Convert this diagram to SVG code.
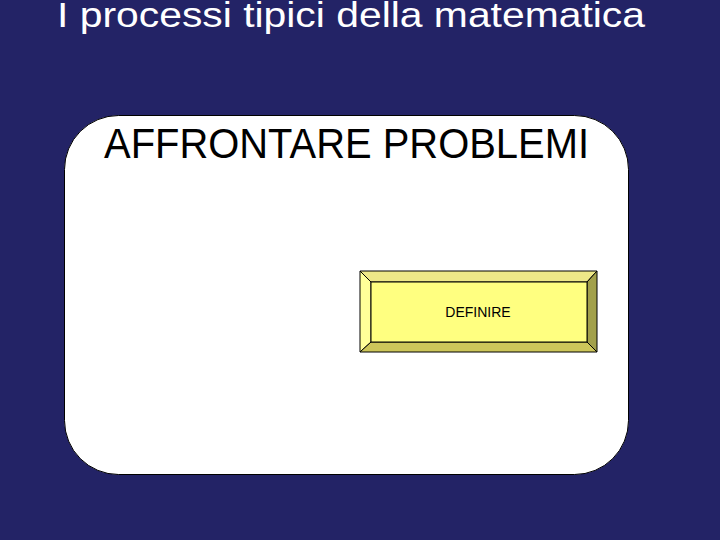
<svg xmlns="http://www.w3.org/2000/svg" width="720" height="540" viewBox="0 0 720 540">
<style>
.title{font-family:"Liberation Sans",Arial,sans-serif;fill:#fff;font-size:35px}
.head{font-family:"Liberation Sans",Arial,sans-serif;fill:#000;font-size:42px}
.lbl{font-family:"Liberation Sans",Arial,sans-serif;fill:#000;font-size:14px}
.edge{stroke:#000;stroke-width:1}
</style>
<rect width="720" height="540" fill="#232366"/>
<text class="title" x="57" y="27" textLength="588" lengthAdjust="spacingAndGlyphs">I processi tipici della matematica</text>
<g id="frame">
<rect x="64.5" y="115.5" width="564" height="359" rx="54" ry="54" fill="#fff" stroke="#000" stroke-width="1"/>
<text class="head" x="104" y="158" textLength="485" lengthAdjust="spacingAndGlyphs">AFFRONTARE PROBLEMI</text>
</g>
<g id="definire">
<polygon points="360,271 597,271 587,282 371,282" fill="#eee888" class="edge"/>
<polygon points="360,271 371,282 371,342 360,352" fill="#ffff99" class="edge"/>
<polygon points="597,271 597,352 587,342 587,282" fill="#a2a04a" class="edge"/>
<polygon points="360,352 371,342 587,342 597,352" fill="#cdc65a" class="edge"/>
<rect x="371" y="282" width="216" height="60" fill="#ffff80" class="edge"/>
<text class="lbl" x="478" y="317" text-anchor="middle">DEFINIRE</text>
</g>
<g id="connectors"/>
</svg>
